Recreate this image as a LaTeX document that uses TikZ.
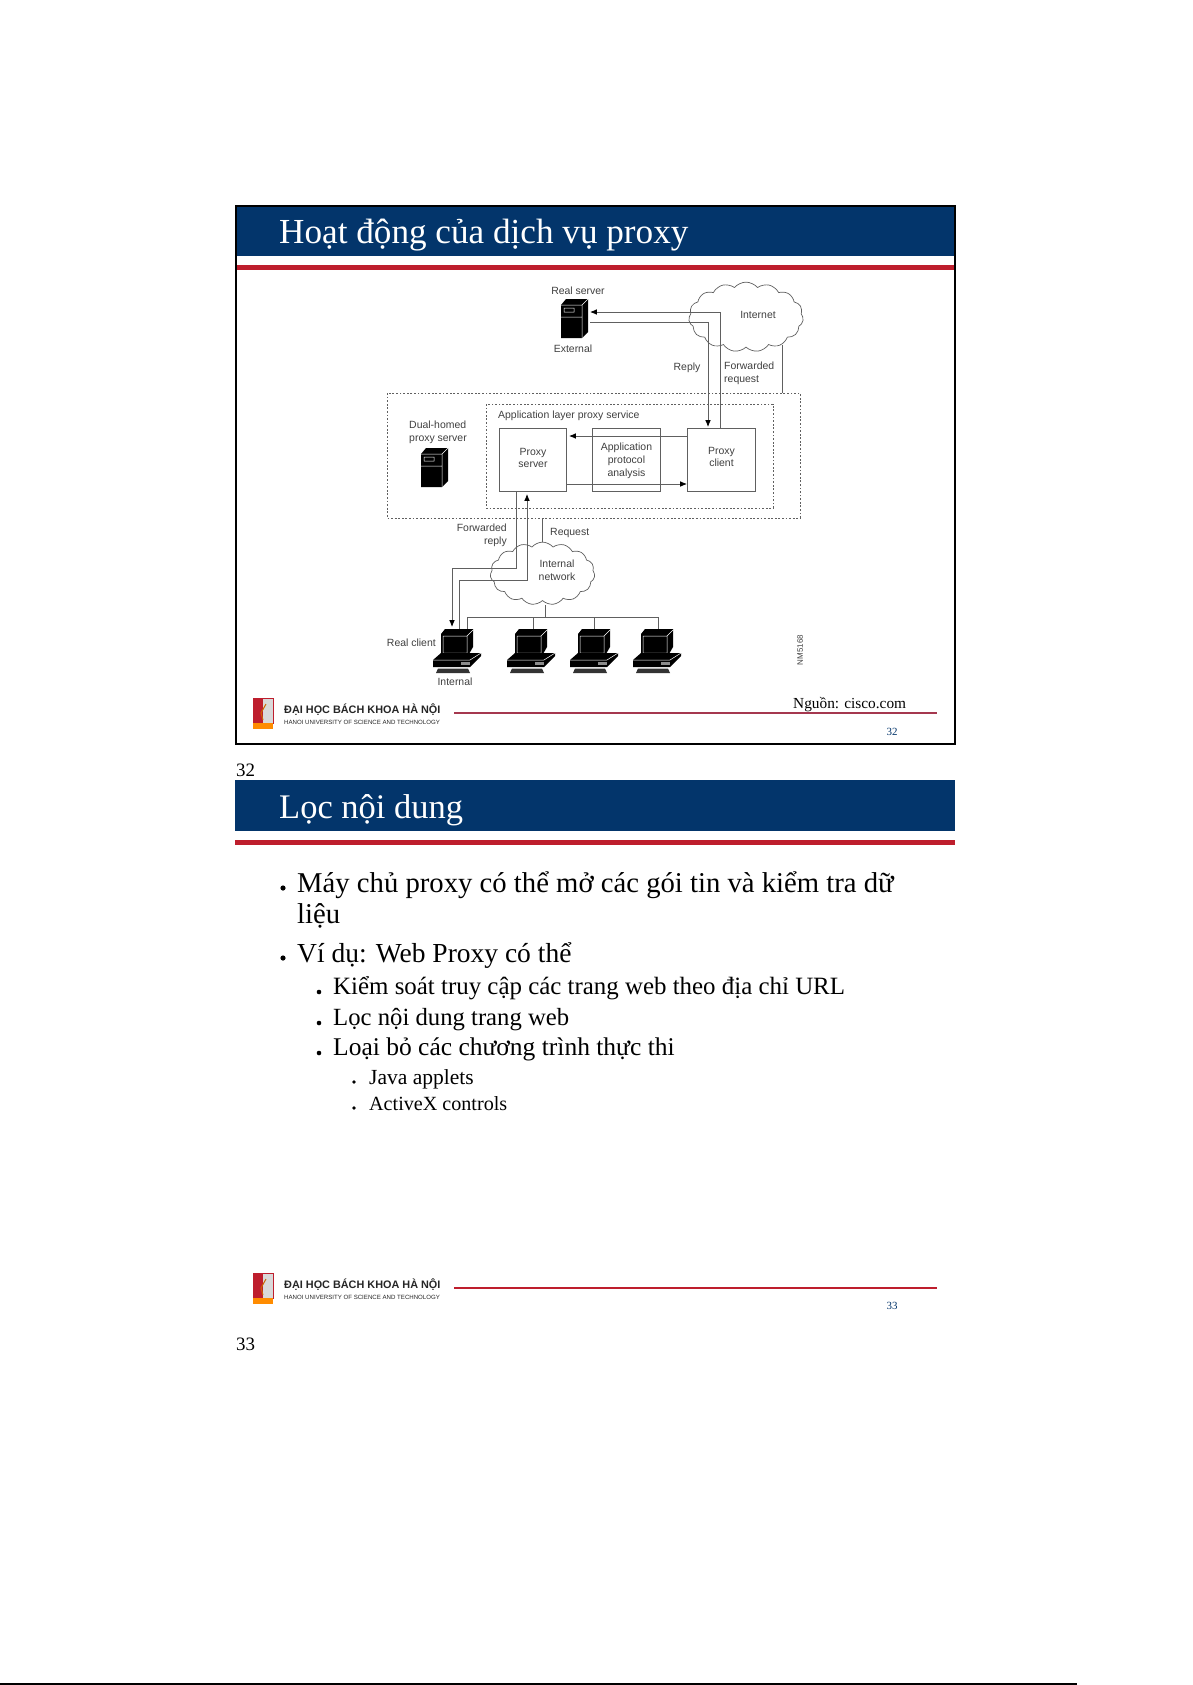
\documentclass[tikz,border=0pt]{standalone}
\usepackage{fontspec}
\setmainfont{Liberation Serif}
\setsansfont{Liberation Sans}
\usetikzlibrary{positioning,arrows.meta,shapes.symbols}
\definecolor{navy}{HTML}{03356B}
\definecolor{redbar}{HTML}{BE1E2D}
\definecolor{maroon}{HTML}{A5384F}
\definecolor{wire}{HTML}{606060}
\tikzset{
  lbl/.style={font=\sffamily\fontsize{10.5}{12.8}\selectfont,text=black!75,inner sep=0pt,anchor=center},
  box/.style={draw=wire,line width=0.8pt,minimum width=68,minimum height=64,inner sep=0pt},
  dashbox/.style={draw=wire,line width=0.7pt,dash pattern=on 1.8pt off 1.8pt},
  cloudy/.style={cloud,cloud puffs=15,cloud puff arc=100,draw=wire,line width=0.7pt,aspect=1.6,inner sep=0pt},
  wirea/.style={draw=wire,line width=0.9pt},
  arr/.style={wirea,-{Latex[length=2.4mm,width=2mm,black]}},
  title/.style={font=\fontsize{35}{38}\selectfont,text=white,inner sep=0pt,anchor=mid west},
  bodya/.style={font=\fontsize{28.8}{31}\selectfont,inner sep=0pt,anchor=mid west},
  bodyb/.style={font=\fontsize{25}{27}\selectfont,inner sep=0pt,anchor=mid west},
  bodyc/.style={font=\fontsize{20.5}{23}\selectfont,inner sep=0pt,anchor=mid west},
  pageno/.style={font=\fontsize{19}{22}\selectfont,inner sep=0pt,anchor=mid west},
  server/.pic={
    \fill (0,6) -- (5,0) -- (27,0) -- (27,33) -- (21,39) -- (0,39) -- cycle;
    \draw[white,line width=0.5pt] (0,6) -- (21,6) -- (27,0) (21,6) -- (21,39) (0,18) -- (21,18) (3,9) rectangle (13,13);
  },
  pc/.pic={
    \fill (8,5) -- (12,0) -- (40,0) -- (40,18) -- (36,25) -- (8,25) -- cycle;
    \draw[white,line width=0.5pt] (10,7) rectangle (34,24) (34,7) -- (40,1);
    \fill (0,31) -- (8,24) -- (48,24) -- (48,27) -- (37,38) -- (0,38) -- cycle;
    \draw[white,line width=0.5pt] (0,31) -- (37,31) -- (48,24);
    \fill[black!45] (28,33) rectangle (37,35.5);
    \fill[black!80] (5,39.5) -- (35,39.5) -- (37,44) -- (3,44) -- cycle;
  },
  footer/.pic={
    \fill[redbar] (0,0) rectangle (9,25);
    \fill[white!85!black] (9,0) rectangle (20,25);
    \draw[redbar,line width=0.5pt] (9,0) rectangle (20,25);
    \fill[orange!90!yellow] (0,25) rectangle (20,31);
    \draw[orange!80!black,line width=1pt] (13,6) -- (8,15) -- (10,22);
    \node[font=\sffamily\bfseries\fontsize{10.9}{12}\selectfont,text=black!85,inner sep=0pt,anchor=mid west] at (31,13) {ĐẠI HỌC BÁCH KHOA HÀ NỘI};
    \node[font=\sffamily\fontsize{6.13}{8}\selectfont,text=black!85,inner sep=0pt,anchor=mid west] at (31,24) {HANOI UNIVERSITY OF SCIENCE AND TECHNOLOGY};
  }
}
\begin{document}
\begin{tikzpicture}[x=1bp,y=-1bp,>=Latex]
  \useasboundingbox (0,0) rectangle (1192,1685);
  \fill[white] (0,0) rectangle (1192,1685);
  \fill[navy] (236,206) rectangle (955,256);
  \fill[redbar] (236,265) rectangle (955,270);
  \draw[line width=1.6pt] (236,206) rectangle (955,744);
  \node[title,font=\fontsize{35.3}{38}\selectfont] (titleone) at (279,241) {Hoạt động của dịch vụ proxy};

  \pic at (561,299) {server};
  \pic at (421,448) {server};
  \node[lbl] (realserver) at (578,290.5) {Real server};
  \node[lbl] (external) at (573,348.5) {External};
  \node[cloudy,minimum width=115,minimum height=70] (internet) at (746,317) {};
  \node[lbl] (internettext) at (758,314.5) {Internet};
  \node[lbl] (reply) at (687,368) {Reply};
  \node[lbl,align=left,anchor=west] (fwdreq) at (724,373.5) {Forwarded\\request};
  \draw[dashbox] (387,393) rectangle (800,518);
  \draw[dashbox] (486,404) rectangle (773,508);
  \node[lbl,anchor=west] (alps) at (498,416) {Application layer proxy service};
  \node[lbl,align=left,anchor=west] (dual) at (409,432.5) {Dual-homed\\proxy server};
  \node[box] (pserver) at (533,460) {};
  \node[box] (analysis) at (626.5,460) {};
  \node[box] (pclient) at (721.5,460) {};
  \node[lbl,align=center,yshift=2] at (pserver) {Proxy\\server};
  \node[lbl,align=center,yshift=-1] at (analysis) {Application\\protocol\\analysis};
  \node[lbl,align=center,yshift=3] at (pclient) {Proxy\\client};

  \coordinate (replytop) at (590,322);
  \coordinate (fwdtop) at (590,312);
  \draw[arr] (720,428) |- (fwdtop);
  \draw[arr] (replytop) -| (708,427);
  \draw[wirea] (782,345) -- (782,393);
  \draw[arr] (pclient.west |- 0,436) -- (569,436);
  \draw[arr] (pserver.east |- 0,484) -- (687,484);

  \node[lbl,align=right,anchor=east] (fwdreply) at (507,535.5) {Forwarded\\reply};
  \node[lbl,anchor=west] (request) at (550,533) {Request};
  \node[cloudy,minimum width=105,minimum height=63] (intnet) at (542.5,573.5) {};
  \node[lbl,align=center] (intnettext) at (557,570.5) {Internal\\network};
  \draw[wirea] (542,518) -- (542,542);
  \draw[arr] (516,492) |- (452,568) -- (452,627);
  \draw[arr] (459,629) |- (527,580) -- (527,494);

  \foreach \x/\name in {433/a,507/b,570/c,633/d} \pic (pc\name) at (\x,629) {pc};
  \draw[wirea] (545,605) -- (545,617) (467,629) |- (658,617) -- (658,629) (533,617) -- (533,629) (594,617) -- (594,629);
  \node[lbl,anchor=east] (realclient) at (436,643) {Real client};
  \node[lbl] (internal) at (455,682) {Internal};
  \node[lbl,rotate=90,font=\sffamily\fontsize{8}{9}\selectfont] (nmcode) at (800,650) {NM5168};

  \pic at (253,698) {footer};
  \draw[maroon,line width=1.6pt] (454,713) -- (937,713);
  \node[pageno,font=\fontsize{15.4}{18}\selectfont] (source) at (793,706) {Nguồn: cisco.com};
  \node[pageno,font=\fontsize{11}{13}\selectfont,text=navy,anchor=mid] (numone) at (892,733) {32};
  \node[pageno] (pageone) at (236,774) {32};

  \fill[navy] (235,780) rectangle (955,831);
  \fill[redbar] (235,840) rectangle (955,845);
  \node[title,font=\fontsize{34.6}{38}\selectfont] (titletwo) at (279,816) {Lọc nội dung};
  \node[bodya] (a) at (297,890) {Máy chủ proxy có thể mở các gói tin và kiểm tra dữ};
  \node[bodya] (aa) at (297,921) {liệu};
  \node[bodya,font=\fontsize{27.6}{31}\selectfont] (b) at (297,960) {Ví dụ: Web Proxy có thể};
  \node[bodyb] (c) at (333,992) {Kiểm soát truy cập các trang web theo địa chỉ URL};
  \node[bodyb,font=\fontsize{24.8}{27}\selectfont] (d) at (333,1023) {Lọc nội dung trang web};
  \node[bodyb,font=\fontsize{25.6}{27}\selectfont] (e) at (333,1053) {Loại bỏ các chương trình thực thi};
  \node[bodyc,font=\fontsize{21.6}{23}\selectfont] (f) at (369,1082) {Java applets};
  \node[bodyc,font=\fontsize{20.2}{23}\selectfont] (g) at (369,1108) {ActiveX controls};
  \foreach \x/\y/\r in {283/888/2.6,283/958/2.6,319/992/2.3,319/1023/2.3,319/1053/2.3,354/1082/1.9,354/1108/1.9}
    \fill (\x,\y) circle (\r);

  \pic at (253,1273) {footer};
  \draw[redbar,line width=1.6pt] (454,1288) -- (937,1288);
  \node[pageno,font=\fontsize{11}{13}\selectfont,text=navy,anchor=mid] (numtwo) at (892,1307) {33};
  \node[pageno] (pagetwo) at (236,1348) {33};
  \draw[line width=1.2pt] (0,1684) -- (1077,1684);
\end{tikzpicture}
\end{document}
